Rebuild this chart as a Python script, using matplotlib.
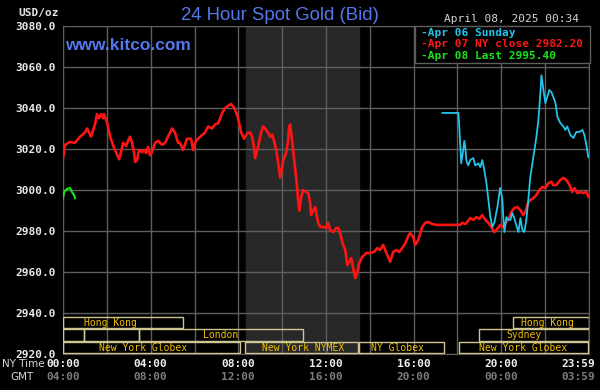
import matplotlib
matplotlib.use("Agg")
import matplotlib.pyplot as plt
from matplotlib.patches import Rectangle
from matplotlib.ticker import FormatStrFormatter, MultipleLocator

# Apr 07 (NY close) - hours in NY time, price USD/oz
red_hours = [0.00, 0.09, 0.32, 0.55, 0.78, 1.00, 1.10, 1.28, 1.46, 1.55, 1.64, 1.74, 1.83, 1.87,
             2.01, 2.15, 2.33, 2.56, 2.65, 2.74, 2.88, 2.97, 3.06, 3.15, 3.24, 3.29, 3.38, 3.47,
             3.61, 3.70, 3.79, 3.88, 3.97, 4.06, 4.20, 4.34, 4.52, 4.66, 4.79, 4.98, 5.11, 5.25,
             5.34, 5.48, 5.66, 5.84, 5.94, 6.07, 6.26, 6.48, 6.62, 6.80, 6.94, 7.08, 7.26, 7.40,
             7.53, 7.67, 7.81, 7.95, 8.04, 8.13, 8.26, 8.36, 8.45, 8.54, 8.63, 8.72, 8.77, 8.90,
             9.04, 9.13, 9.22, 9.36, 9.45, 9.54, 9.63, 9.73, 9.82, 9.91, 10.05, 10.18, 10.27,
             10.32, 10.37, 10.46, 10.55, 10.64, 10.68, 10.73, 10.78, 10.87, 10.96, 11.10, 11.19,
             11.28, 11.32, 11.42, 11.51, 11.64, 11.74, 11.87, 12.01, 12.10, 12.19, 12.33, 12.47,
             12.56, 12.65, 12.74, 12.88, 12.97, 13.06, 13.15, 13.24, 13.33, 13.42, 13.52, 13.65,
             13.84, 14.02, 14.20, 14.34, 14.47, 14.61, 14.70, 14.84, 14.93, 15.07, 15.21, 15.34,
             15.48, 15.62, 15.75, 15.84, 15.98, 16.07, 16.21, 16.30, 16.39, 16.53, 16.67, 16.85,
             17.03, 17.49, 18.13, 18.22, 18.36, 18.45, 18.58, 18.72, 18.86, 19.00, 19.13, 19.27,
             19.41, 19.54, 19.68, 19.77, 19.86, 19.95, 20.09, 20.23, 20.37, 20.46, 20.59, 20.73,
             20.87, 21.00, 21.10, 21.23, 21.32, 21.46, 21.60, 21.74, 21.87, 22.01, 22.15, 22.28,
             22.37, 22.51, 22.69, 22.83, 22.97, 23.11, 23.24, 23.33, 23.47, 23.61, 23.74, 23.88,
             23.98]
red_price = [3015.6, 3022.0, 3023.4, 3023.0, 3026.0, 3028.0, 3030.0, 3026.0, 3032.0, 3037.0,
             3035.0, 3037.0, 3035.0, 3037.0, 3033.0, 3026.0, 3020.5, 3015.0, 3018.5, 3023.0,
             3021.5, 3024.0, 3026.0, 3023.0, 3018.5, 3013.7, 3014.6, 3019.5, 3018.5, 3019.5,
             3018.0, 3021.0, 3017.0, 3018.5, 3023.0, 3024.0, 3022.0, 3023.0, 3026.0, 3030.0,
             3028.0, 3023.0, 3023.0, 3019.5, 3025.0, 3025.0, 3019.5, 3024.0, 3026.0, 3028.0,
             3031.0, 3030.0, 3032.0, 3032.5, 3037.5, 3040.0, 3041.0, 3042.0, 3040.0, 3036.6,
             3032.5, 3028.0, 3025.0, 3027.0, 3028.0, 3028.0, 3026.0, 3020.5, 3015.6, 3021.0,
             3028.0, 3031.0, 3030.0, 3028.0, 3026.0, 3027.0, 3024.0, 3019.5, 3013.0, 3006.0,
             3014.6, 3018.0, 3024.0, 3031.0, 3032.0, 3023.0, 3014.6, 3006.0, 3001.5, 2995.0,
             2990.0, 2996.6, 3000.0, 2999.0, 2998.5, 2993.6, 2987.8, 2990.0, 2991.7, 2984.0,
             2982.0, 2982.0, 2981.5, 2984.0, 2980.5, 2979.5, 2981.5, 2981.5, 2979.0, 2974.6,
             2970.7, 2963.4, 2965.0, 2966.8, 2962.0, 2957.0, 2959.5, 2964.4, 2967.3, 2969.3,
             2969.3, 2969.8, 2971.7, 2970.7, 2973.2, 2970.7, 2967.3, 2965.0, 2969.8, 2970.7,
             2969.8, 2971.7, 2974.0, 2977.5, 2979.0, 2977.0, 2973.2, 2975.6, 2979.0, 2982.0,
             2984.0, 2984.4, 2983.4, 2983.0, 2983.0, 2983.0, 2984.0, 2983.4, 2984.4, 2986.3,
             2985.4, 2986.8, 2985.9, 2987.8, 2985.4, 2984.0, 2982.0, 2979.5, 2980.5, 2981.5,
             2983.0, 2982.0, 2984.4, 2986.8, 2989.3, 2991.2, 2991.7, 2990.2, 2987.8, 2989.3,
             2994.1, 2995.1, 2996.0, 2997.6, 3000.0, 3001.5, 3001.0, 3003.4, 3004.0, 3002.4,
             3002.4, 3004.9, 3005.9, 3004.9, 3002.4, 2999.0, 3001.0, 2998.5, 2999.0, 2998.5,
             2999.0, 2996.6]

# Apr 06 (Sunday)
cyan_hours = [17.31, 18.04, 18.08, 18.13, 18.17, 18.26, 18.31, 18.36, 18.40, 18.49, 18.58, 18.72,
              18.81, 18.95, 19.04, 19.13, 19.22, 19.32, 19.41, 19.50, 19.59, 19.68, 19.82, 19.91,
              19.95, 20.05, 20.09, 20.14, 20.23, 20.32, 20.41, 20.50, 20.59, 20.68, 20.78, 20.87,
              20.96, 21.05, 21.14, 21.23, 21.32, 21.46, 21.60, 21.69, 21.78, 21.83, 21.92, 22.01,
              22.10, 22.19, 22.28, 22.37, 22.47, 22.56, 22.69, 22.83, 22.92, 23.01, 23.15, 23.29,
              23.42, 23.56, 23.70, 23.79, 23.88, 23.97]
cyan_price = [3037.6, 3037.6, 3031.0, 3021.0, 3013.0, 3019.5, 3024.0, 3020.5, 3014.6, 3012.0,
              3014.6, 3015.6, 3012.0, 3013.0, 3011.2, 3014.6, 3009.8, 3003.4, 2995.1, 2986.8,
              2982.0, 2984.0, 2991.7, 2998.5, 3001.0, 2995.1, 2986.8, 2979.5, 2986.8, 2985.4,
              2985.4, 2988.8, 2986.3, 2983.0, 2979.5, 2986.3, 2980.5, 2979.5, 2985.4, 2995.1,
              3006.3, 3016.0, 3025.9, 3034.0, 3047.3, 3056.0, 3048.8, 3042.4, 3045.4, 3048.8,
              3047.8, 3045.4, 3042.4, 3035.6, 3032.7, 3031.0, 3029.3, 3031.0, 3026.8, 3025.4,
              3028.3, 3028.3, 3029.3, 3026.8, 3022.0, 3016.0]

# Apr 08 (last)
green_hours = [0.00, 0.05, 0.18, 0.32, 0.41, 0.50, 0.55]
green_price = [2996.0, 2999.0, 3000.5, 3001.0, 2999.0, 2997.6, 2996.0]

# trading sessions: row (0 = top), start, end, label, label position
session_row = [0, 0, 1, 1, 1, 1, 2, 2, 2, 2]
session_start = [0.00, 20.52, 0.00, 0.96, 3.48, 19.00, 0.00, 8.31, 13.52, 18.08]
session_end = [5.48, 24.00, 0.96, 3.48, 10.96, 24.00, 8.08, 13.47, 17.37, 23.97]
session_label = ["Hong Kong", "Hong Kong", "", "", "London", "Sydney",
                 "New York Globex", "New York NYMEX", "NY Globex", "New York Globex"]
session_text_at = [2.15, 22.1, 0, 0, 7.17, 21.03, 3.65, 10.96, 15.25, 21.0]
row_low = [2932.5, 2926.5, 2920.3]
row_high = [2938.2, 2932.0, 2926.0]

nymex_start, nymex_end = 8.33, 13.5

ny_ticks = [0, 4, 8, 12, 16, 20, 24]
ny_labels = ["00:00", "04:00", "08:00", "12:00", "16:00", "20:00", "23:59"]
gmt_labels = ["04:00", "08:00", "12:00", "16:00", "20:00", "00:00", "03:59"]

legend_text = ["-Apr 06 Sunday", "-Apr 07 NY close 2982.20", "-Apr 08 Last 2995.40"]

RED = "#ff1414"
CYAN = "#22c4ec"
GREEN = "#18e418"
BLUE = "#5577ee"
GRID = "#5e5e5e"
BOX = "#cfc592"
GOLD = "#f0c000"
mono = "DejaVu Sans Mono"

fig = plt.figure(figsize=(6, 3.9), dpi=100, facecolor="black")
ax = fig.add_axes([63 / 600, 36 / 390, 526 / 600, 328 / 390], facecolor="black")

ax.axvspan(nymex_start, nymex_end, color="#282828", zorder=0)
ax.set_xlim(0, 24)
ax.set_ylim(2920, 3080)
ax.xaxis.set_major_locator(MultipleLocator(2))
ax.yaxis.set_major_locator(MultipleLocator(20))
ax.yaxis.set_major_formatter(FormatStrFormatter("%.1f"))
ax.grid(True, color=GRID, lw=1, zorder=1)
ax.tick_params(axis="x", length=0, labelbottom=False)
ax.tick_params(axis="y", length=0, pad=5, labelcolor="#e6e6e6", labelsize=8)
for lab in ax.get_yticklabels():
    lab.set_family(mono)
    lab.set_fontweight("bold")
for sp in ax.spines.values():
    sp.set_color(GRID)

ax.plot(red_hours, red_price, color=RED, lw=1.9, zorder=3)
ax.plot(cyan_hours, cyan_price, color=CYAN, lw=1.3, zorder=4)
ax.plot(green_hours, green_price, color=GREEN, lw=1.5, zorder=4)

for r, s, e, lab, tx in zip(session_row, session_start, session_end, session_label, session_text_at):
    ax.add_patch(Rectangle((s, row_low[r]), e - s, row_high[r] - row_low[r],
                           fill=False, ec=BOX, lw=1, zorder=5))
    if lab:
        ax.text(tx, (row_low[r] + row_high[r]) / 2, lab, color=GOLD, family=mono,
                fontsize=7, ha="center", va="center", zorder=6)

# time axis labels
xt = ax.get_xaxis_transform()
for h, ny, gmt in zip(ny_ticks, ny_labels, gmt_labels):
    ha = "center"
    x = h
    if h == 24:
        ha, x = "right", 24.3
    ax.text(x, -0.030, ny, transform=xt, ha=ha, va="center", color="#f0f0f0",
            family=mono, fontweight="bold", fontsize=8, clip_on=False)
    ax.text(x, -0.070, gmt, transform=xt, ha=ha, va="center", color="#7c7c7c",
            family=mono, fontweight="bold", fontsize=8, clip_on=False)
fig.text(2 / 600, 1 - 364 / 390, "NY Time", color="#d8d8d8", family="DejaVu Sans",
         fontsize=7.5, va="center")
fig.text(10 / 600, 1 - 377 / 390, "GMT", color="#d8d8d8", family="DejaVu Sans",
         fontsize=7.5, va="center")

# headers
fig.text(18 / 600, 1 - 13 / 390, "USD/oz", color="#e6e6e6", family=mono,
         fontweight="bold", fontsize=8, va="center")
fig.text(280 / 600, 1 - 15 / 390, "24 Hour Spot Gold (Bid)", color=BLUE,
         family="Liberation Sans", fontsize=13.4, ha="center", va="center")
fig.text(65 / 600, 1 - 46 / 390, "www.kitco.com", color=BLUE, family="Liberation Sans",
         fontweight="bold", fontsize=12.5, va="center")
fig.text(579 / 600, 1 - 19 / 390, "April 08, 2025 00:34", color="#d6d6d6", family=mono,
         fontsize=8, ha="right", va="center")

# legend box
fig.patches.append(Rectangle((415 / 600, 1 - 63 / 390), 175 / 600, 37 / 390,
                             transform=fig.transFigure, fc="black", ec=GRID, lw=1, zorder=10))
for txt, col, py in zip(legend_text, [CYAN, RED, GREEN], [33, 44, 56]):
    fig.text(421 / 600, 1 - py / 390, txt, color=col, family=mono, fontweight="bold",
             fontsize=8, va="center", zorder=11)

fig.savefig("out.png", dpi=100, facecolor="black")
